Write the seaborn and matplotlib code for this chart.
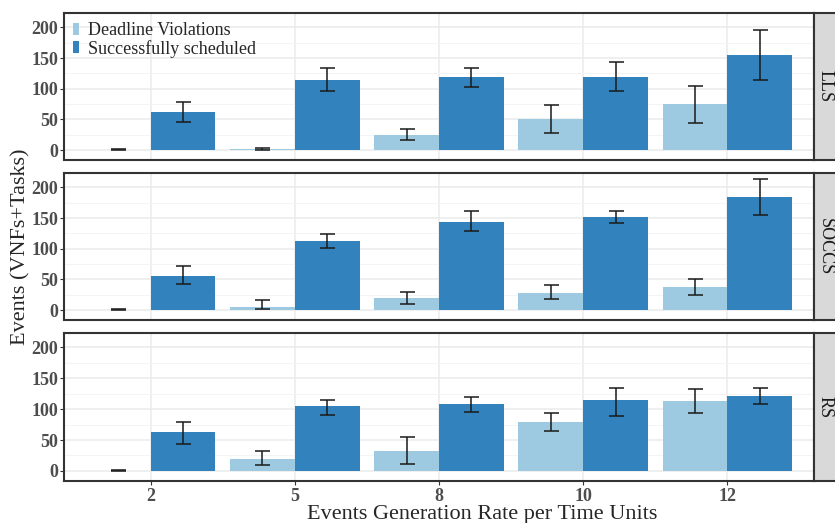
import numpy as np
import pandas as pd
import seaborn as sns
import matplotlib.pyplot as plt
from matplotlib.patches import Patch, Rectangle

# data
rates = ["2", "5", "8", "10", "12"]
schedulers = ["LLS", "SOCCS", "RS"]
kinds = ["Deadline Violations", "Successfully scheduled"]

lls_violations = [0.5, 1, 24.5, 50.5, 75]
lls_violations_lo = [0, 0, 16, 28, 44]
lls_violations_hi = [1, 3, 34, 73, 105]
lls_success = [62, 114, 119, 119, 155]
lls_success_lo = [45, 96, 102, 97, 114]
lls_success_hi = [79, 134, 134, 143, 195]

soccs_violations = [0.5, 5, 20, 28, 38]
soccs_violations_lo = [0, 2, 10, 18, 24.5]
soccs_violations_hi = [1, 17, 30, 40, 50.5]
soccs_success = [56, 113, 144, 152, 185]
soccs_success_lo = [42, 101, 129, 142, 155.5]
soccs_success_hi = [72, 124.5, 161, 162, 213]

rs_violations = [0.5, 20, 33, 79, 113]
rs_violations_lo = [0, 9, 11, 64, 93.5]
rs_violations_hi = [1, 32, 55, 94, 132]
rs_success = [62.5, 105, 108, 115, 121]
rs_success_lo = [44, 91, 96, 88.5, 109]
rs_success_hi = [79, 115, 120, 135, 134]

values = {
    "LLS": [(lls_violations, lls_violations_lo, lls_violations_hi),
            (lls_success, lls_success_lo, lls_success_hi)],
    "SOCCS": [(soccs_violations, soccs_violations_lo, soccs_violations_hi),
              (soccs_success, soccs_success_lo, soccs_success_hi)],
    "RS": [(rs_violations, rs_violations_lo, rs_violations_hi),
           (rs_success, rs_success_lo, rs_success_hi)],
}

rows = []
for sched in schedulers:
    for kind, (mean, lo, hi) in zip(kinds, values[sched]):
        for r, m, l, h in zip(rates, mean, lo, hi):
            rows.append({"scheduler": sched, "kind": kind, "rate": r,
                         "value": m, "lo": l, "hi": h})
df = pd.DataFrame(rows)

palette = {"Deadline Violations": "#9ECAE1", "Successfully scheduled": "#3182BD"}

sns.set_style("white")
plt.rcParams["font.family"] = ["Liberation Serif", "DejaVu Serif"]

fig = plt.figure(figsize=(8.35, 5.23), dpi=100)
W, H = 835, 523
left, right = 64, 814
panels = [(13, 160), (173, 320), (333, 481)]

tick_color = "#4D4D4D"
for i, sched in enumerate(schedulers):
    top, bot = panels[i]
    ax = fig.add_axes([left / W, 1 - bot / H, (right - left) / W, (bot - top) / H])
    sub = df[df["scheduler"] == sched]
    sns.barplot(data=sub, x="rate", y="value", hue="kind", order=rates,
                hue_order=kinds, palette=palette, width=0.9, errorbar=None,
                saturation=1, legend=False, ax=ax, zorder=2, linewidth=0)

    # error bars at the bar centres
    for k, kind in enumerate(kinds):
        part = sub[sub["kind"] == kind].set_index("rate").loc[rates]
        xs = np.arange(len(rates)) + (-0.225 if k == 0 else 0.225)
        mid = (part["lo"].values + part["hi"].values) / 2
        half = (part["hi"].values - part["lo"].values) / 2
        ax.errorbar(xs, mid, yerr=half, fmt="none", ecolor="#1a1a1a",
                    elinewidth=1.1, capsize=5.4, capthick=1.1, zorder=3)

    ax.set_xlim(-0.6, 4.6)
    ax.set_ylim(-16.3, 223.4)
    ax.set_yticks([0, 50, 100, 150, 200])
    ax.set_yticks([25, 75, 125, 175], minor=True)
    ax.grid(which="major", color="#EBEBEB", lw=1.1, zorder=0)
    ax.grid(which="minor", axis="y", color="#F2F2F2", lw=0.6, zorder=0)
    ax.set_axisbelow(True)
    ax.set_xlabel("")
    ax.set_ylabel("")
    for s in ax.spines.values():
        s.set_color("#333333")
        s.set_linewidth(1.5)
    ax.tick_params(axis="y", which="major", length=3, width=0.8, color="#333333",
                   labelsize=13, labelcolor=tick_color, pad=1, left=True)
    ax.tick_params(axis="y", which="minor", length=0)
    for lab in ax.get_yticklabels():
        lab.set_fontweight("bold")
    if i < 2:
        ax.tick_params(axis="x", bottom=False, labelbottom=False)
    else:
        ax.tick_params(axis="x", length=3, width=0.8, color="#333333",
                       labelsize=13, labelcolor=tick_color, pad=2, bottom=True)
        for lab in ax.get_xticklabels():
            lab.set_fontweight("bold")

    # facet strip on the right
    sw = 40 / (right - left)
    ax.add_patch(Rectangle((1.0, 0), sw, 1, transform=ax.transAxes,
                           facecolor="#D9D9D9", edgecolor="#333333", lw=1.5,
                           clip_on=False, zorder=5))
    ax.text(1.0 + 11 / (right - left), 0.5, sched, transform=ax.transAxes,
            rotation=270, ha="center", va="center", fontsize=13,
            color="#1A1A1A", zorder=6)

    if i == 0:
        handles = [Patch(facecolor=palette[k], edgecolor="none") for k in kinds]
        ax.legend(handles, kinds, loc="upper left", frameon=False, fontsize=13,
                  handlelength=0.35, handleheight=0.65, handletextpad=0.5,
                  labelspacing=0.05, borderaxespad=0.3, borderpad=0.2)

fig.text(482 / W, 1 - 519 / H, "Events Generation Rate per Time Units",
         ha="center", va="baseline", fontsize=16)
fig.text(21 / W, 1 - 247 / H, "Events (VNFs+Tasks)", rotation=90,
         ha="center", va="center", fontsize=16)

fig.savefig("out.png", dpi=100)
